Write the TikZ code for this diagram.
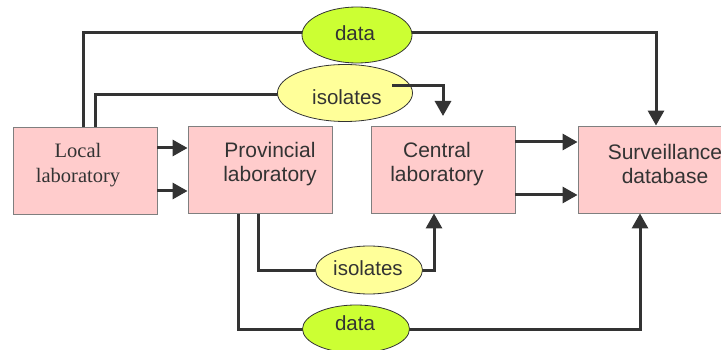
\documentclass[tikz,border=0pt]{standalone}
\usepackage{fontspec}
\setmainfont{Liberation Sans}
\newfontfamily\serifx{Liberation Serif}
\usetikzlibrary{arrows.meta,shapes.geometric,backgrounds}
\definecolor{boxfill}{HTML}{FFCCCC}
\definecolor{boxline}{HTML}{7F7F7F}
\definecolor{datafill}{HTML}{CCFF33}
\definecolor{isofill}{HTML}{FFFF99}
\definecolor{ink}{HTML}{333333}
\tikzset{
  labbox/.style={draw=boxline, line width=0.9pt, fill=boxfill, minimum width=144pt, minimum height=87pt, inner sep=0pt},
  oval/.style={ellipse, draw=ink, line width=0.8pt, inner sep=0pt},
  conn/.style={draw=ink, line width=3pt, line join=miter},
  arr/.style={conn, -{Triangle[length=15pt,width=16pt]}},
  txt/.style={text=ink, align=center, inner sep=0pt, font=\fontsize{21}{23.5}\selectfont},
  otxt/.style={text=ink, inner sep=0pt, font=\fontsize{20.5}{24}\selectfont}
}
\begin{document}
\begin{tikzpicture}[x=1pt,y=-1pt]
\useasboundingbox (0,0) rectangle (721,350);
% boxes
\node[labbox] (local) at (85,170.5) {};
\node[labbox] (prov) at (260,169.5) {};
\node[labbox] (central) at (443,169.5) {};
\node[labbox] (surv) at (650,169.5) {};
% ellipses
\node[oval, fill=datafill, minimum width=110pt, minimum height=56pt] (dataT) at (357,35) {};
\node[oval, fill=isofill, minimum width=135pt, minimum height=57pt] (isoT) at (345,93) {};
\node[oval, fill=isofill, minimum width=107pt, minimum height=48pt] (isoB) at (369,270) {};
\node[oval, fill=datafill, minimum width=107pt, minimum height=48pt] (dataB) at (356,329) {};
% bend points
\coordinate (kA) at (83,33);
\coordinate (kB) at (656,33);
\coordinate (kC) at (95,95);
\coordinate (kD) at (443,86);
\coordinate (kE) at (392,86);
\coordinate (kD2) at (443,116);
\coordinate (kF) at (258,270);
\coordinate (kG) at (434,270);
\coordinate (kH) at (238,329);
\coordinate (kI) at (640,329);
\coordinate (kJ) at (0,148);
\coordinate (kK) at (0,191);
\coordinate (kL) at (0,142);
\coordinate (kM) at (0,195);
\begin{pgfonlayer}{background}
\draw[conn] (local.north -| kA) -- (kA) -- (dataT.center |- kA);
\draw[arr] (dataT.center |- kB) -- (kB) -- (surv.north -| kB);
\draw[conn] (local.north -| kC) -- (kC) -- (isoT.center |- kC);
\draw[conn] (prov.south -| kF) -- (kF) -- (isoB.center);
\draw[arr] (isoB.center) -- (kG) -- (central.south -| kG);
\draw[conn] (prov.south -| kH) -- (kH) -- (dataB.center |- kH);
\draw[arr] (dataB.center |- kI) -- (kI) -- (surv.south -| kI);
\end{pgfonlayer}
% straight arrows
\draw[arr] (local.east |- kJ) -- (prov.west |- kJ);
\draw[arr] (local.east |- kK) -- (prov.west |- kK);
\draw[arr] (central.east |- kL) -- (surv.west |- kL);
\draw[arr] (central.east |- kM) -- (surv.west |- kM);
% isolates to central (drawn over the ellipse)
\draw[arr] (kE) -- (kD) -- (kD2);
% texts
\node[txt, font=\serifx\fontsize{20.5}{25}\selectfont] (localT) at (78,165) {Local\\laboratory};
\node[txt] (provT) at (270,164) {Provincial\\laboratory};
\node[txt] (centT) at (437,164) {Central\\laboratory};
\node[txt] (survT) at (665,164) {Surveillance\\database};
\node[otxt] (dataTt) at (355,33) {data};
\node[otxt] (isoTt) at (347,97) {isolates};
\node[otxt] (isoBt) at (368,268) {isolates};
\node[otxt] (dataBt) at (355,323) {data};
\end{tikzpicture}
\end{document}
